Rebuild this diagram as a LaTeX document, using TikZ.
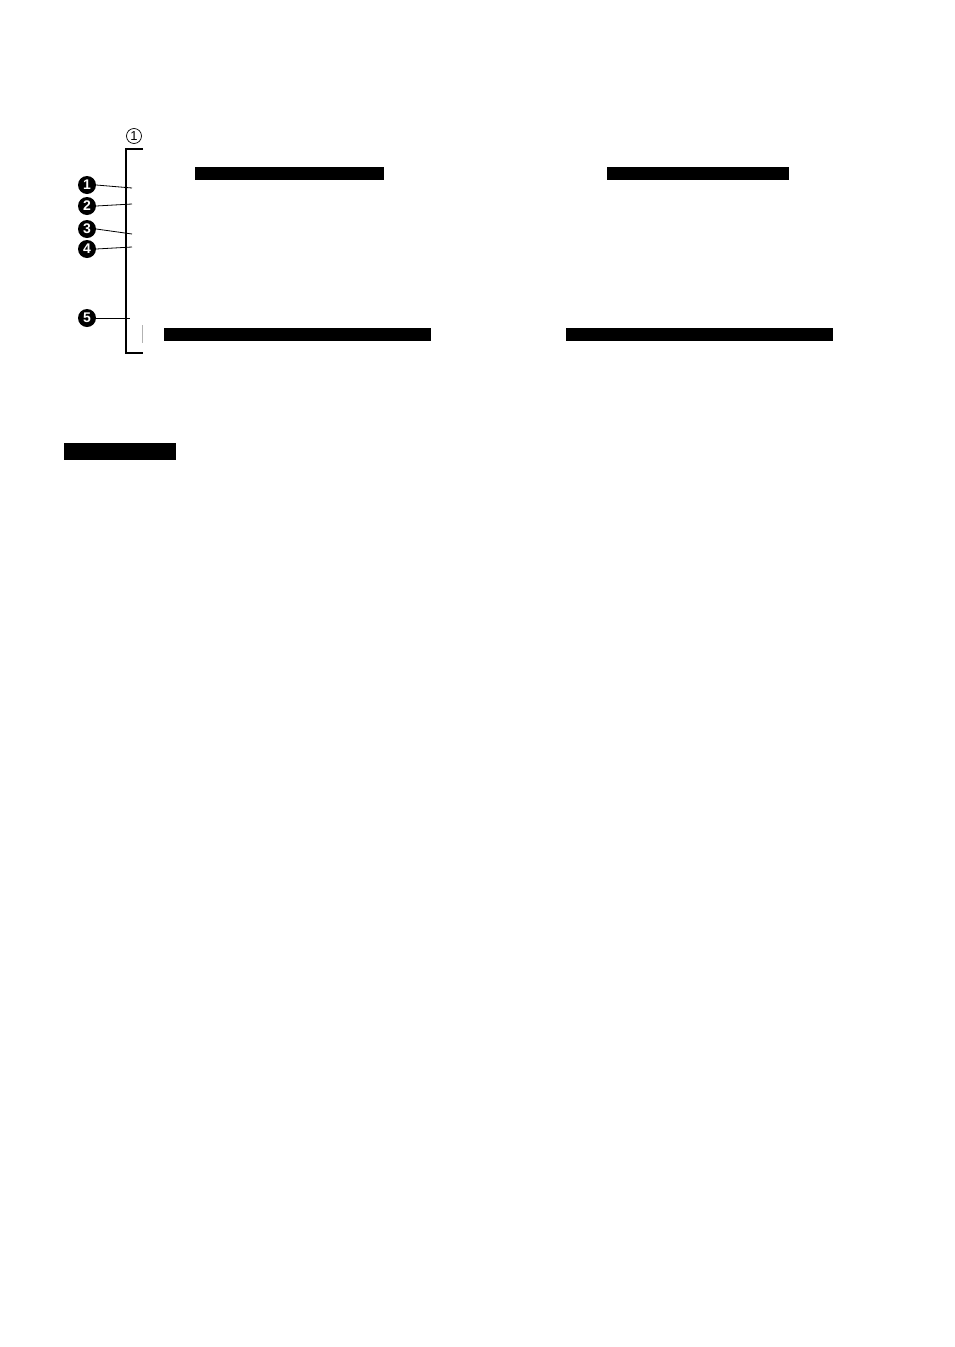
\documentclass[tikz,border=0pt]{standalone}
\usepackage{fontspec}
\newfontfamily\numfont{Liberation Sans}
\begin{document}
\begin{tikzpicture}[x=1pt,y=-1pt,
  blackbar/.style={fill=black,draw=none},
  numdot/.style={circle,fill=black,text=white,inner sep=0pt,minimum size=18pt,font=\numfont\bfseries\fontsize{14}{14}\selectfont},
  ringnum/.style={circle,draw=black,line width=0.7pt,inner sep=0pt,minimum size=15pt,font=\numfont\fontsize{13}{13}\selectfont},
  leader/.style={line width=0.8pt},
  bracketline/.style={line width=1.3pt}]
\useasboundingbox[fill=white] (0,0) rectangle (954,1347);
% circled label
\node[ringnum] (r1) at (134,136) {1};
% bracket
\coordinate (bt) at (143,149);
\coordinate (btl) at (126,149);
\coordinate (bbl) at (126,353);
\coordinate (bb) at (143,353);
\draw[bracketline] (bt) -- (btl) -- (bbl) -- (bb);
% numbered dots
\node[numdot] (n1) at (87,185) {1};
\node[numdot] (n2) at (87,206) {2};
\node[numdot] (n3) at (87,229) {3};
\node[numdot] (n4) at (87,249) {4};
\node[numdot] (n5) at (87,318) {5};
\coordinate (e1) at (132,188);
\coordinate (e2) at (132,204);
\coordinate (e3) at (132,234);
\coordinate (e4) at (132,247);
\coordinate (e5) at (130,318);
\draw[leader] (n1.east) -- (e1);
\draw[leader] (n2.east) -- (e2);
\draw[leader] (n3.east) -- (e3);
\draw[leader] (n4.east) -- (e4);
\draw[leader] (n5.east) -- (e5);
% faint tick
\draw[gray!60,line width=0.6pt] (142,325) -- (142,343);
% black bars
\fill[blackbar] (195,167) rectangle (384,180);
\fill[blackbar] (607,167) rectangle (789,180);
\fill[blackbar] (164,328) rectangle (431,341);
\fill[blackbar] (566,328) rectangle (833,341);
\fill[blackbar] (64,443) rectangle (176,460);
\end{tikzpicture}
\end{document}
